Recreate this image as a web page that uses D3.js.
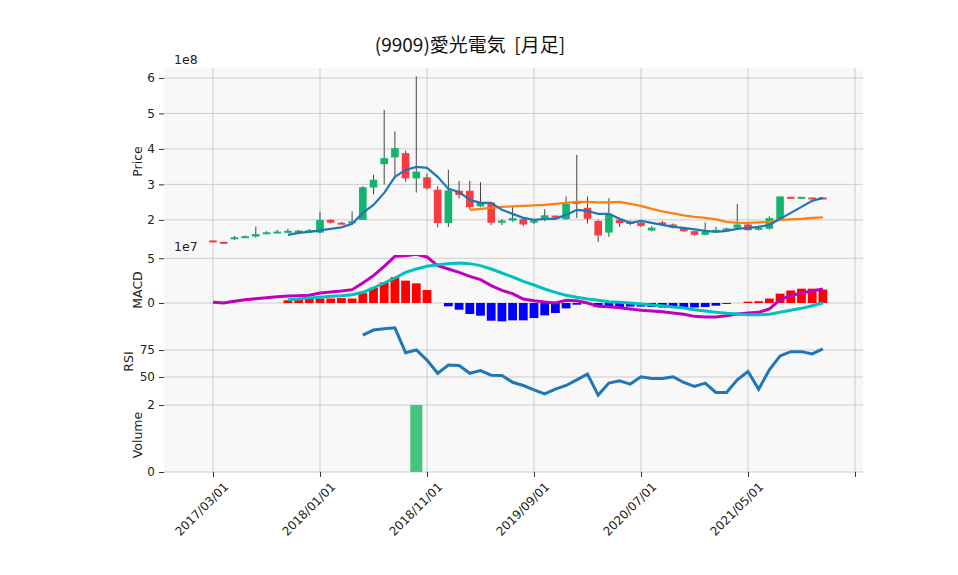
<!DOCTYPE html>
<html><head><meta charset="utf-8">
<script src="https://cdn.jsdelivr.net/npm/d3@7"></script>
<style>body{margin:0;background:#fff}text{font-family:"DejaVu Sans",sans-serif}</style>
</head><body><svg id="c" width="958" height="575"></svg>
<script>
const openP=[1.42,1.38,1.48,1.52,1.53,1.62,1.65,1.67,1.69,1.70,1.64,2.0,1.92,1.91,2.0,2.91,3.57,3.76,3.88,3.17,3.2,2.85,1.91,2.82,2.82,2.38,2.49,1.92,1.98,2.02,1.92,2.02,2.12,2.02,2.45,2.34,1.97,1.64,2.0,1.94,1.92,1.70,1.93,1.87,1.77,1.68,1.58,1.68,1.70,1.78,1.87,1.72,1.75,1.98,2.65,2.63,2.63,2.63];
const highP=[1.42,1.38,1.55,1.56,1.81,1.68,1.72,1.75,1.72,1.74,2.23,2.02,1.94,2.24,2.95,3.27,5.1,4.49,3.95,6.04,3.3,2.95,3.41,3.10,3.10,3.06,2.50,2.02,2.40,2.04,2.00,2.30,2.13,2.66,3.83,2.66,2.0,2.61,2.05,1.98,1.97,1.82,1.97,1.90,1.78,1.69,1.93,1.80,1.78,2.45,1.89,1.84,2.10,2.66,2.65,2.65,2.63,2.63];
const lowP=[1.40,1.35,1.43,1.50,1.50,1.60,1.63,1.65,1.67,1.68,1.62,1.90,1.88,1.89,2.0,2.72,3.0,3.21,3.08,2.77,2.85,1.79,1.80,2.60,2.30,2.36,1.85,1.85,1.95,1.82,1.88,1.96,2.05,2.0,2.05,1.90,1.38,1.52,1.80,1.85,1.80,1.68,1.84,1.76,1.66,1.55,1.56,1.64,1.68,1.76,1.70,1.70,1.72,1.98,2.62,2.63,2.61,2.61];
const closeP=[1.40,1.35,1.51,1.54,1.60,1.65,1.67,1.69,1.70,1.71,2.0,1.92,1.89,1.96,2.92,3.13,3.74,4.02,3.17,3.36,2.89,1.91,2.83,2.70,2.36,2.49,1.92,1.98,2.05,1.87,1.98,2.13,2.09,2.45,2.52,2.03,1.56,2.17,1.91,1.92,1.83,1.78,1.86,1.78,1.68,1.58,1.68,1.72,1.76,1.87,1.71,1.78,2.05,2.66,2.63,2.65,2.61,2.61];
const maShortY=[null,null,null,null,null,null,null,235,233,232,230.5,229,227.5,224,213,205,193,177,170,167,168,177,189,192,200,203,203,210,214,218,220,219,219,215,210,211,214,214,219,223,221,223,225,227,228,229.5,231,232,231,229,228,227,225,219,213,207,201,198];
const maLongY=[...Array(24).fill(null),210,209,208,207,206.5,206,205.5,205,204,203,202,202,202.5,202.5,202,204,206,209,211.5,213.5,215.5,217,218,219.5,222,223,223,222.5,222,220,219.5,219,218,217.5];
const maShort=maShortY.map(y=>y==null?null:2+(220-y)/35.5);
const maLong=maLongY.map(y=>y==null?null:2+(220-y)/35.5);
const macdZ=[158,160,155,150,147,144,141,139,138,137,130,127,124,120,100,78,50,20,18,14,22,48,58,68,80,90,108,122,132,148,153,157,160,152,153,160,170,171,174,178,182,184,186,190,194,200,202,202,198,193,190,188,178,150,138,130,124,118];
const signalZ=[null,null,null,null,null,null,null,150,148,145,143,140,138,135,128,115,100,85,68,58,50,45,42,40,42,48,58,70,82,95,106,118,128,137,143,148,152,156,158,160,163,166,168,172,175,180,184,188,191,193,195,195,194,188,182,176,168,160];
const macd=macdZ.map(z=>(160-z)/26.8);
const signal=signalZ.map(z=>z==null?null:(160-z)/26.8);
const hist=[null,null,null,null,null,null,null,0.3,0.4,0.45,0.5,0.5,0.55,0.5,1.1,1.7,2.3,2.9,2.5,2.2,1.45,0,-0.37,-0.75,-1.23,-1.42,-1.98,-2.05,-1.94,-1.94,-1.68,-1.38,-1.12,-0.6,-0.19,-0.08,-0.45,-0.45,-0.45,-0.4,-0.4,-0.45,-0.5,-0.5,-0.55,-0.5,-0.45,-0.3,-0.1,0,0.15,0.2,0.5,1.05,1.4,1.6,1.6,1.5];
const rsi=[...Array(14).fill(null),88.9,93.5,94.7,95.6,72.5,75,65.7,53.4,61,60.6,53.4,55.9,51.6,51.3,45.1,42.1,38.1,34.4,38.7,42.1,47.3,52.8,33.2,44.3,46.5,43.4,50.2,48.6,48.6,50.2,44.9,41.2,44.3,35.6,35.6,47.3,55,38.7,56.6,69.5,73.5,73.5,71.4,76];
const volume=[...Array(19).fill(0),2.0,...Array(38).fill(0)];
const xTickIdx=[0,10,20,30,40,50,60];
const xTickLabels=["2017/03/01","2018/01/01","2018/11/01","2019/09/01","2020/07/01","2021/05/01",""];

const svg=d3.select("#c");
const L=164,R=863;
const x=d3.scaleLinear().domain([-4.58,60.75]).range([L,R]);
const idx=d3.range(openP.length);
const panels=[
 {name:"Price",top:68,bot:255,dom:[1.01,6.28],ticks:[2,3,4,5,6],exp:"1e8",lx:142},
 {name:"MACD",top:255,bot:325,dom:[-2.46,5.37],ticks:[0,5],exp:"1e7",lx:142},
 {name:"RSI",top:325,bot:398,dom:[30.5,98.2],ticks:[50,75],lx:133},
 {name:"Volume",top:398,bot:472,dom:[0,2.21],ticks:[0,2],lx:142}];
panels.forEach(p=>{
 p.y=d3.scaleLinear().domain(p.dom).range([p.bot,p.top]);
 svg.append("rect").attr("x",L).attr("y",p.top).attr("width",R-L).attr("height",p.bot-p.top).attr("fill","#f8f8f8");
 const g=svg.append("g").attr("transform",`translate(${L},0)`);
 g.call(d3.axisLeft(p.y).tickValues(p.ticks).tickFormat(d3.format("d")).tickSize(5).tickPadding(4));
 g.select(".domain").remove();
 g.selectAll("text").attr("font-size",12).attr("fill","#222");
 g.selectAll("line").attr("stroke","#333");
 svg.append("g").selectAll("line").data(p.ticks).join("line").attr("x1",L).attr("x2",R)
  .attr("y1",d=>p.y(d)).attr("y2",d=>p.y(d)).attr("stroke","#ccc").attr("stroke-width",1);
 svg.append("g").selectAll("line").data(xTickIdx).join("line").attr("x1",d=>x(d)).attr("x2",d=>x(d))
  .attr("y1",p.top).attr("y2",p.bot).attr("stroke","#ccc").attr("stroke-width",1);
 svg.append("text").attr("transform",`translate(${p.lx},${(p.top+p.bot)/2}) rotate(-90)`).attr("text-anchor","middle")
  .attr("font-size",12.5).attr("fill","#222").text(p.name);
 if(p.exp) svg.append("text").attr("x",174).attr("y",p.top-4).attr("font-size",12.5).attr("fill","#222").text(p.exp);
});
const [P,M,Rr,V]=panels;
const clip=(p,id)=>{svg.append("clipPath").attr("id",id).append("rect").attr("x",L).attr("y",p.top).attr("width",R-L).attr("height",p.bot-p.top);return `url(#${id})`;};
const gC=svg.append("g").attr("clip-path",clip(P,"cp"));
const up=i=>closeP[i]>=openP[i];
gC.selectAll(".w").data(idx).join("line").attr("x1",i=>x(i)).attr("x2",i=>x(i))
 .attr("y1",i=>P.y(highP[i])).attr("y2",i=>P.y(lowP[i])).attr("stroke","#444").attr("stroke-width",1);
gC.selectAll(".b").data(idx).join("rect").attr("x",i=>x(i)-3.8).attr("width",7.6)
 .attr("y",i=>P.y(Math.max(openP[i],closeP[i]))).attr("height",i=>Math.max(2,Math.abs(P.y(openP[i])-P.y(closeP[i]))))
 .attr("fill",i=>up(i)?"#13b46d":"#fd3a3f");
const line=(ys,sc)=>d3.line().defined(d=>d!=null).x((d,i)=>x(i)).y(d=>sc(d))(ys);
gC.append("path").attr("d",line(maLong,P.y)).attr("fill","none").attr("stroke","#ff7f0e").attr("stroke-width",2.2);
gC.append("path").attr("d",line(maShort,P.y)).attr("fill","none").attr("stroke","#1f77b4").attr("stroke-width",2.2);
const gM=svg.append("g").attr("clip-path",clip(M,"cm"));
gM.selectAll("rect").data(idx.filter(i=>hist[i]!=null&&hist[i]!=0)).join("rect")
 .attr("x",i=>x(i)-4.4).attr("width",8.8)
 .attr("y",i=>M.y(Math.max(0,hist[i]))).attr("height",i=>Math.abs(M.y(hist[i])-M.y(0)))
 .attr("fill",i=>hist[i]>0?"#ff0000":"#0000ff");
gM.append("path").attr("d",line(macd,M.y)).attr("fill","none").attr("stroke","#c000c0").attr("stroke-width",3);
gM.append("path").attr("d",line(signal,M.y)).attr("fill","none").attr("stroke","#00c0c0").attr("stroke-width",3);
svg.append("path").attr("clip-path",clip(Rr,"cr")).attr("d",line(rsi,Rr.y)).attr("fill","none").attr("stroke","#1f77b4").attr("stroke-width",3);
svg.append("g").attr("clip-path",clip(V,"cv")).selectAll("rect").data(idx.filter(i=>volume[i]>0)).join("rect")
 .attr("x",i=>x(i)-6).attr("width",12).attr("y",i=>V.y(volume[i])).attr("height",i=>V.y(0)-V.y(volume[i])).attr("fill","#45c482");
const gx=svg.append("g").attr("transform",`translate(0,${V.bot})`)
 .call(d3.axisBottom(x).tickValues(xTickIdx).tickFormat((d,i)=>xTickLabels[i]).tickSize(5));
gx.select(".domain").remove();
gx.selectAll("line").attr("stroke","#333");
gx.selectAll("text").attr("font-size",12).attr("fill","#222").attr("text-anchor","end")
 .attr("transform","translate(4,4) rotate(-45)").attr("dx",0).attr("dy","0.7em");
svg.append("text").attr("x",470).attr("y",52).attr("text-anchor","middle").attr("font-size",19).attr("fill","#111")
 .style("font-family","'Noto Sans CJK JP',sans-serif").style("white-space","pre").text("(9909)愛光電気  [月足]");
</script></body></html>
